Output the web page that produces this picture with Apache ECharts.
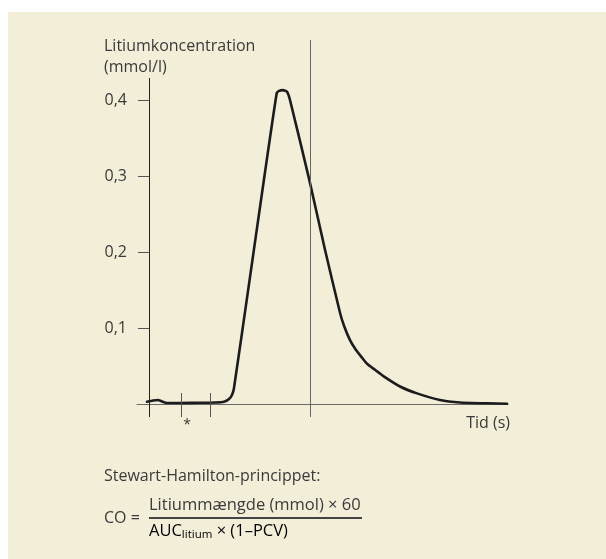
<!DOCTYPE html>
<html>
<head>
<meta charset="utf-8">
<script src="https://cdn.jsdelivr.net/npm/echarts@6/dist/echarts.min.js"></script>
<style>
  html, body { margin: 0; padding: 0; background: #ffffff; }
  #bg { position: absolute; left: 8px; top: 12px; width: 598px; height: 547px; background: #f2eed8; }
  #chart { position: absolute; left: 0; top: 0; width: 606px; height: 559px; }
</style>
</head>
<body>
<div id="bg"></div>
<div id="chart"></div>
<script>
// ---- data (time in arbitrary seconds, concentration in mmol/l) ----
const times = [-0.2, 0.4, 0.9, 1.3, 1.8, 3.1, 5.1, 6.6, 7.5, 8.0, 8.3, 8.5, 10.1, 11.6, 12.77, 13.0, 13.4, 13.8, 14.1,
               16.03, 17.6, 19.1, 19.5, 20.1, 20.7, 21.3, 21.8, 22.6, 23.4, 25.1, 26.8, 29.1, 31.1, 33.8, 35.8];
const conc  = [0.003, 0.0046, 0.0053, 0.0033, 0.0013, 0.0013, 0.0016, 0.002, 0.003, 0.0066, 0.0118, 0.021, 0.167, 0.305, 0.409, 0.412, 0.413, 0.411, 0.400,
               0.295, 0.203, 0.120, 0.103, 0.084, 0.071, 0.061, 0.053, 0.045, 0.037, 0.023, 0.014, 0.0053, 0.002, 0.0009, 0.0004];
const yTicks = [0.1, 0.2, 0.3, 0.4];
const markTimes = [3.2, 6.1];      // small ticks on the time axis
const cutoffTime = 16.1;           // vertical reference line
const yAxisTitle = ['Litiumkoncentration', '(mmol/l)'];
const xAxisTitle = 'Tid (s)';
const formulaTitle = 'Stewart-Hamilton-princippet:';
const numeratorText = 'Litiummængde (mmol) × 60';

const FONT = '"Open Sans", "Liberation Sans", sans-serif';
const TXT = '#3a3a3a';

const xMin = -1.2, xMax = 35.9, yMin = -0.0171, yMax = 0.479, yAxisTop = 0.429, tickTop = 0.0145;

const chart = echarts.init(document.getElementById('chart'), null, { renderer: 'canvas' });

const markData = [];
markData.push([{ coord: [0, yMin], lineStyle: { color: '#222', width: 1 } }, { coord: [0, yAxisTop] }]);
markTimes.forEach(t => markData.push([{ coord: [t, yMin], lineStyle: { color: '#555', width: 1 } }, { coord: [t, tickTop] }]));
markData.push([{ coord: [cutoffTime, yMin], lineStyle: { color: '#666', width: 1 } }, { coord: [cutoffTime, yMax] }]);

chart.setOption({
  backgroundColor: 'transparent',
  animation: false,
  grid: { left: 137, right: 98, top: 40, bottom: 142 },
  xAxis: {
    type: 'value', min: xMin, max: xMax,
    axisLine: { show: true, onZero: true, lineStyle: { color: '#6b6b6b', width: 1 } },
    axisTick: { show: false }, axisLabel: { show: false }, splitLine: { show: false }
  },
  yAxis: {
    type: 'value', min: yMin, max: yMax, offset: -12,
    axisLine: { show: false, onZero: false },
    axisTick: { show: true, length: 11, customValues: yTicks, lineStyle: { color: '#555', width: 1 } },
    axisLabel: {
      show: true, customValues: yTicks, margin: 22,
      formatter: v => v.toFixed(1).replace('.', ','),
      fontFamily: FONT, fontSize: 16, color: TXT
    },
    splitLine: { show: false }
  },
  series: [{
    type: 'line',
    data: times.map((t, i) => [t, conc[i]]),
    showSymbol: false, smooth: 0.15, clip: false,
    lineStyle: { color: '#1c1c1c', width: 2.6, join: 'round', cap: 'round' },
    markLine: {
      silent: true, symbol: ['none', 'none'], label: { show: false },
      lineStyle: { type: 'solid' },
      data: markData
    }
  }],
  graphic: [
    { type: 'text', style: { text: yAxisTitle.join('\n'), x: 104, y: 36, font: '16px ' + FONT, fill: TXT, lineHeight: 21, textAlign: 'left', textVerticalAlign: 'top' } },
    { type: 'text', style: { text: xAxisTitle, x: 510, y: 423, font: '16px ' + FONT, fill: TXT, textAlign: 'right', textVerticalAlign: 'middle' } },
    { type: 'text', style: { text: '*', x: 187, y: 425, font: '14px ' + FONT, fill: TXT, textAlign: 'center', textVerticalAlign: 'middle' } },
    { type: 'text', style: { text: formulaTitle, x: 104, y: 476, font: '16px ' + FONT, fill: TXT, textAlign: 'left', textVerticalAlign: 'middle' } },
    { type: 'text', style: { text: 'CO =', x: 104, y: 518, font: '16px ' + FONT, fill: TXT, textAlign: 'left', textVerticalAlign: 'middle' } },
    { type: 'text', style: { text: numeratorText, x: 149, y: 505, font: '16.5px ' + FONT, fill: TXT, textAlign: 'left', textVerticalAlign: 'middle' } },
    { type: 'line', shape: { x1: 149, y1: 518, x2: 362, y2: 518 }, style: { stroke: '#444', lineWidth: 2 } },
    { type: 'text', style: {
        text: '{a|AUC}{s|litium}{a| × (1–PCV)}', x: 149, y: 531, textAlign: 'left', textVerticalAlign: 'middle',
        rich: {
          a: { fontFamily: FONT, fontSize: 16.5, color: TXT, lineHeight: 20 },
          s: { fontFamily: FONT, fontSize: 11.5, color: TXT, lineHeight: 12, verticalAlign: 'bottom' }
        }
    } }
  ]
});
</script>
</body>
</html>
